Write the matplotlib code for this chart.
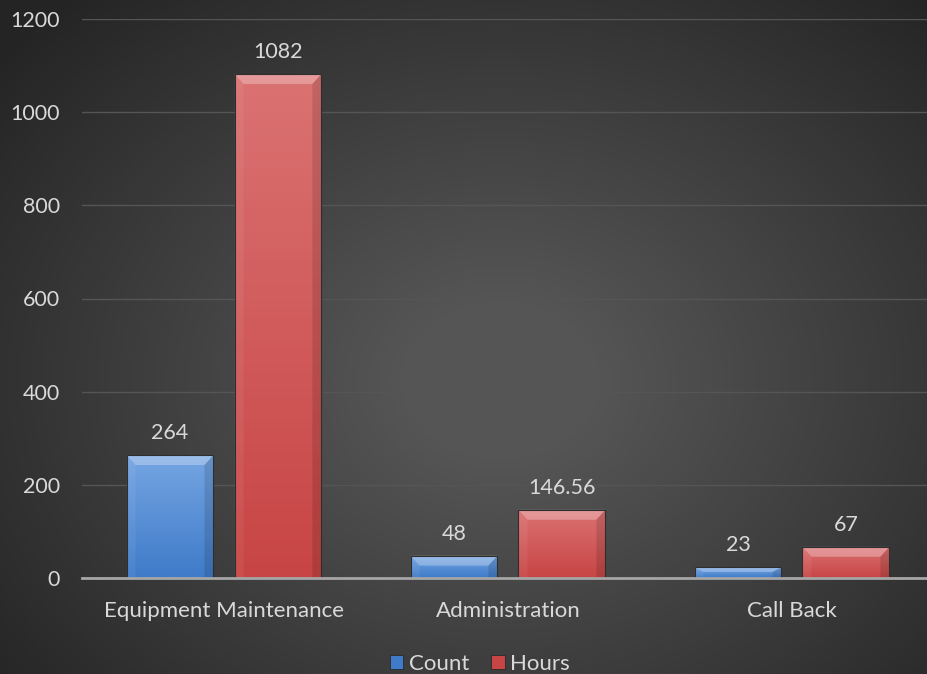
import numpy as np
import matplotlib.pyplot as plt
from matplotlib.patches import Polygon, Rectangle
from matplotlib.colors import LinearSegmentedColormap

categories = ["Equipment Maintenance", "Administration", "Call Back"]
count_values = [264, 48, 23]
hours_values = [1082, 146.56, 67]
count_labels = ["264", "48", "23"]
hours_labels = ["1082", "146.56", "67"]
y_ticks = [0, 200, 400, 600, 800, 1000, 1200]

TEXT = "#d9d9d9"
BLUE = ("#75a5e2", "#3f7bc9")
RED = ("#db7272", "#c84545")

plt.rcParams["font.family"] = ["Lato", "DejaVu Sans"]

fig = plt.figure(figsize=(9.28, 6.74), dpi=100)

# radial gradient backdrop, lighter in the middle
bg = fig.add_axes([0, 0, 1, 1], zorder=0)
yy, xx = np.mgrid[0:674, 0:928]
r = np.sqrt(((xx - 500) / 650.0) ** 2 + ((yy - 380) / 520.0) ** 2)
shade = np.clip(1 - r, 0, 1)
cmap = LinearSegmentedColormap.from_list("bg", ["#242424", "#555555"])
bg.imshow(shade, cmap=cmap, aspect="auto", extent=[0, 1, 0, 1], vmin=0, vmax=0.85)
bg.set_axis_off()

# plot area: categories 284 px apart, zero line at y=578, 1200 at y=19
ax = fig.add_axes([82 / 928, 1 - 578 / 674, 846 / 928, 559 / 674], zorder=1)
ax.patch.set_alpha(0)

width = 0.306
offset = 0.19
x = np.arange(len(categories))

px_x = 284.0
px_y = 559.0 / 1200.0


def bevel_bar(xc, h, colors):
    bx0, bx1 = xc - width / 2, xc + width / 2
    grad = LinearSegmentedColormap.from_list("bar", [colors[1], colors[0]])
    im = ax.imshow(np.linspace(0, 1, 64).reshape(-1, 1), cmap=grad, origin="lower",
                   aspect="auto", extent=[bx0, bx1, 0, h], zorder=3)
    frame = Rectangle((bx0, 0), width, h, facecolor="none", edgecolor="#2e2e2e",
                      linewidth=0.8, zorder=5)
    ax.add_patch(frame)
    im.set_clip_path(frame)
    bx = 9 / px_x
    by = min(10 / px_y, h * 0.45)
    dx = min(bx, width * 0.45)
    faces = [
        ([(bx0, h), (bx1, h), (bx1 - dx, h - by), (bx0 + dx, h - by)], "white", 0.28),
        ([(bx0, 0), (bx0, h), (bx0 + dx, h - by), (bx0 + dx, 0)], "white", 0.06),
        ([(bx1, 0), (bx1, h), (bx1 - dx, h - by), (bx1 - dx, 0)], "black", 0.12),
    ]
    for pts, c, a in faces:
        ax.add_patch(Polygon(pts, closed=True, facecolor=c, alpha=a, edgecolor="none", zorder=4))


for i in range(len(categories)):
    bevel_bar(x[i] - offset, count_values[i], BLUE)
    bevel_bar(x[i] + offset, hours_values[i], RED)
    ax.text(x[i] - offset, count_values[i] + 26, count_labels[i], ha="center", va="bottom",
            color=TEXT, fontsize=15.5)
    ax.text(x[i] + offset, hours_values[i] + 26, hours_labels[i], ha="center", va="bottom",
            color=TEXT, fontsize=15.5)

ax.set_xlim(-0.5, 2.479)
ax.set_ylim(0, 1200)
ax.set_yticks(y_ticks)
ax.set_yticklabels([str(t) for t in y_ticks])
ax.set_xticks(x)
ax.set_xticklabels(categories)
ax.tick_params(axis="both", length=0, colors=TEXT, labelsize=15.5)
ax.tick_params(axis="x", labelsize=16, pad=16.5)
ax.tick_params(axis="y", pad=16)
ax.grid(axis="y", color="#555555", linewidth=1)
ax.set_axisbelow(True)
for side in ["top", "right", "left"]:
    ax.spines[side].set_visible(False)
ax.spines["bottom"].set_color("#a6a6a6")
ax.spines["bottom"].set_linewidth(2)
ax.spines["bottom"].set_zorder(6)

handles = [
    Rectangle((0, 0), 1, 1, facecolor=BLUE[1], edgecolor="#2a2a2a", linewidth=0.6),
    Rectangle((0, 0), 1, 1, facecolor=RED[1], edgecolor="#2a2a2a", linewidth=0.6),
]
fig.legend(handles, ["Count", "Hours"], loc="center", bbox_to_anchor=(0.517, 10 / 674),
           ncol=2, frameon=False, fontsize=16, labelcolor=TEXT, handlelength=0.6,
           handleheight=0.6, handletextpad=0.25, columnspacing=1.0)

fig.savefig("out.png", dpi=100)
